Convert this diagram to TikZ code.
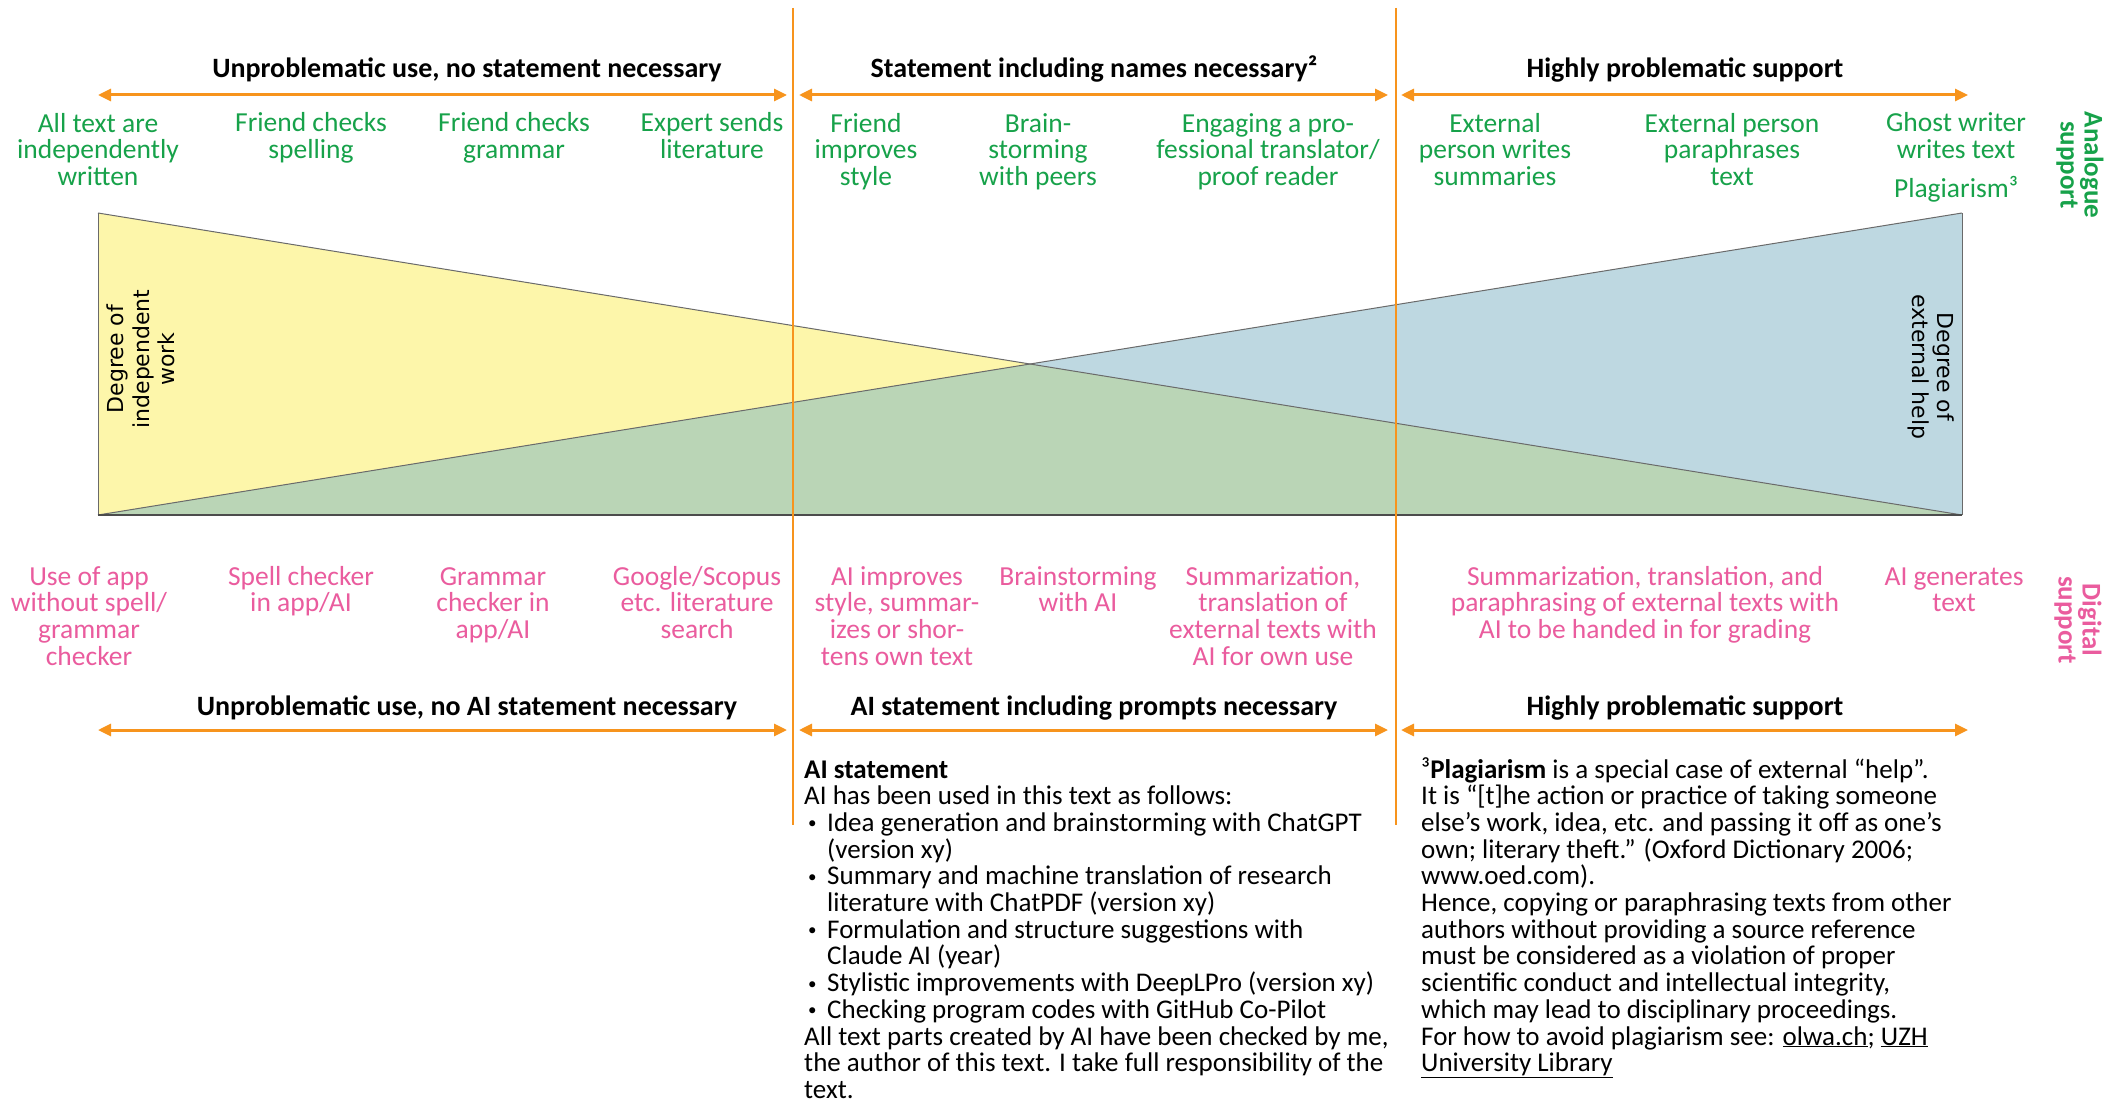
\documentclass[tikz,border=0pt]{standalone}
\usepackage{fontspec}
\setmainfont{Carlito}
\newfontfamily\dejavu{DejaVu Sans}
\usetikzlibrary{arrows.meta,calc}
\definecolor{orng}{HTML}{F7941D}
\definecolor{agreen}{HTML}{17A24A}
\definecolor{apink}{HTML}{EA5C9E}
\definecolor{yelfill}{HTML}{FDF6AA}
\definecolor{bluefill}{HTML}{BED8E1}
\definecolor{grnfill}{HTML}{BAD5B6}
\definecolor{edgegray}{HTML}{6A6A6A}
\newcommand{\smbul}{\makebox[23pt][l]{\hspace{4pt}\raisebox{2.5pt}{\fontsize{17}{17}\selectfont\textbullet}}}
\begin{document}
\begin{tikzpicture}[x=1pt,y=-1pt,
  lbl/.style={align=center, inner sep=0pt, font=\fontsize{27.5}{26.7}\selectfont, anchor=base},
  greenlbl/.style={lbl, text=agreen},
  pinklbl/.style={lbl, text=apink},
  hdr/.style={inner sep=0pt, font=\fontsize{28}{26.7}\selectfont\bfseries, anchor=base},
  sidelbl/.style={align=center, inner sep=0pt, font=\fontsize{27}{24}\selectfont\bfseries, rotate=-90},
  degree/.style={align=center, inner sep=0pt, font=\dejavu\fontsize{22}{25.5}\selectfont},
  textblock/.style={align=left, inner sep=0pt, font=\fontsize{27}{26.7}\selectfont, anchor=base west},
  span/.style={draw=orng, line width=3pt, {Triangle[length=13pt,width=12pt]}-{Triangle[length=13pt,width=12pt]}},
  divider/.style={draw=orng, line width=2pt},
  thinedge/.style={draw=edgegray, line width=1pt},
  baseedge/.style={draw=black!70, line width=2.5pt},
]
\fill[white] (0,0) rectangle (2127,1102);
\useasboundingbox (0,0) rectangle (2127,1102);

% triangles
\coordinate (tl) at (98,213);
\coordinate (bl) at (98,515);
\coordinate (tr) at (1962,213);
\coordinate (br) at (1962,515);
\coordinate (mid) at ($(tl)!0.5!(br)$);
\fill[yelfill] (tl) -- (bl) -- (br) -- cycle;
\fill[bluefill] (tr) -- (br) -- (bl) -- cycle;
\fill[grnfill] (bl) -- (mid) -- (br) -- cycle;
\draw[thinedge] (tl) -- (br);
\draw[thinedge] (bl) -- (tr);
\draw[thinedge] (tl) -- (bl);
\draw[thinedge] (tr) -- (br);
\draw[baseedge] (bl) -- (br);

\node[degree, rotate=90] (indep) at (141,359) {Degree of\\independent\\work};
\node[degree, rotate=-90] (ext) at (1931,367) {Degree of\\external help};

% dividers
\coordinate (d1t) at (793,8);
\coordinate (d1b) at (793,825);
\coordinate (d2t) at (1396,8);
\coordinate (d2b) at (1396,825);
\draw[divider] (d1t) -- (d1b);
\draw[divider] (d2t) -- (d2b);

% top headers and spans
\node[hdr] (h1) at (467,78) {Unproblematic use, no statement necessary};
\node[hdr] (h2) at (1094,78) {Statement including names necessary²};
\node[hdr] (h3) at (1685,78) {Highly problematic support};
\coordinate (a1l) at (98,95);   \coordinate (a1r) at (787,95);
\coordinate (a2l) at (799,95);  \coordinate (a2r) at (1388,95);
\coordinate (a3l) at (1401,95); \coordinate (a3r) at (1968,95);
\draw[span] (a1l) -- (a1r);
\draw[span] (a2l) -- (a2r);
\draw[span] (a3l) -- (a3r);

% analogue labels (anchor = baseline of last line; first baseline at 132)
\node[greenlbl] (g1) at (98,185.4) {All text are\\independently\\written};
\node[greenlbl] (g2) at (311,158.7) {Friend checks\\spelling};
\node[greenlbl] (g3) at (514,158.7) {Friend checks\\grammar};
\node[greenlbl] (g4) at (712,158.7) {Expert sends\\literature};
\node[greenlbl] (g5) at (866,185.4) {Friend\\improves\\style};
\node[greenlbl] (g6) at (1038,185.4) {Brain-\\storming\\with peers};
\node[greenlbl] (g7) at (1268,185.4) {Engaging a pro-\\fessional translator/\\proof reader};
\node[greenlbl] (g8) at (1495,185.4) {External\\person writes\\summaries};
\node[greenlbl] (g9) at (1732,185.4) {External person\\paraphrases\\text};
\node[greenlbl] (g10) at (1956,158.7) {Ghost writer\\writes text};
\node[greenlbl] (plag) at (1956,197) {Plagiarism³};
\node[sidelbl, text=agreen] (analogue) at (2080,165) {Analogue\\support};

% digital labels (first baseline at 585)
\node[pinklbl] (p1) at (89,665.1) {Use of app\\without spell/\\grammar\\checker};
\node[pinklbl] (p2) at (301,611.7) {Spell checker\\in app/AI};
\node[pinklbl] (p3) at (493,638.4) {Grammar\\checker in\\app/AI};
\node[pinklbl] (p4) at (697,638.4) {Google/Scopus\\etc. literature\\search};
\node[pinklbl] (p5) at (897,665.1) {AI improves\\style, summar-\\izes or shor-\\tens own text};
\node[pinklbl] (p6) at (1078,611.7) {Brainstorming\\with AI};
\node[pinklbl] (p7) at (1273,665.1) {Summarization,\\translation of\\external texts with\\AI for own use};
\node[pinklbl] (p8) at (1645,638.4) {Summarization, translation, and\\paraphrasing of external texts with\\AI to be handed in for grading};
\node[pinklbl] (p9) at (1954,611.7) {AI generates\\text};
\node[sidelbl, text=apink] (digital) at (2078,620) {Digital\\support};

% bottom headers and spans
\node[hdr] (b1) at (467,715) {Unproblematic use, no AI statement necessary};
\node[hdr] (b2) at (1094,715) {AI statement including prompts necessary};
\node[hdr] (b3) at (1685,715) {Highly problematic support};
\coordinate (c1l) at (98,730);   \coordinate (c1r) at (787,730);
\coordinate (c2l) at (799,730);  \coordinate (c2r) at (1388,730);
\coordinate (c3l) at (1401,730); \coordinate (c3r) at (1968,730);
\draw[span] (c1l) -- (c1r);
\draw[span] (c2l) -- (c2r);
\draw[span] (c3l) -- (c3r);

% text blocks (first baseline at 778)
\node[textblock] (aistmt) at (804,1098.4) {\textbf{AI statement}\\
AI has been used in this text as follows:\\
\smbul Idea generation and brainstorming with ChatGPT\\
\hspace*{23pt}(version xy)\\
\smbul Summary and machine translation of research\\
\hspace*{23pt}literature with ChatPDF (version xy)\\
\smbul Formulation and structure suggestions with\\
\hspace*{23pt}Claude AI (year)\\
\smbul Stylistic improvements with DeepLPro (version xy)\\
\smbul Checking program codes with GitHub Co-Pilot\\
All text parts created by AI have been checked by me,\\
the author of this text. I take full responsibility of the\\
text.};

\node[textblock] (plagnote) at (1421,1071.7) {³\textbf{Plagiarism} is a special case of external “help”.\\
It is “[t]he action or practice of taking someone\\
else’s work, idea, etc. and passing it off as one’s\\
own; literary theft.” (Oxford Dictionary 2006;\\
www.oed.com).\\
Hence, copying or paraphrasing texts from other\\
authors without providing a source reference\\
must be considered as a violation of proper\\
scientific conduct and intellectual integrity,\\
which may lead to disciplinary proceedings.\\
For how to avoid plagiarism see: \underline{olwa.ch}; \underline{UZH}\\
\underline{University Library}};
\end{tikzpicture}
\end{document}
